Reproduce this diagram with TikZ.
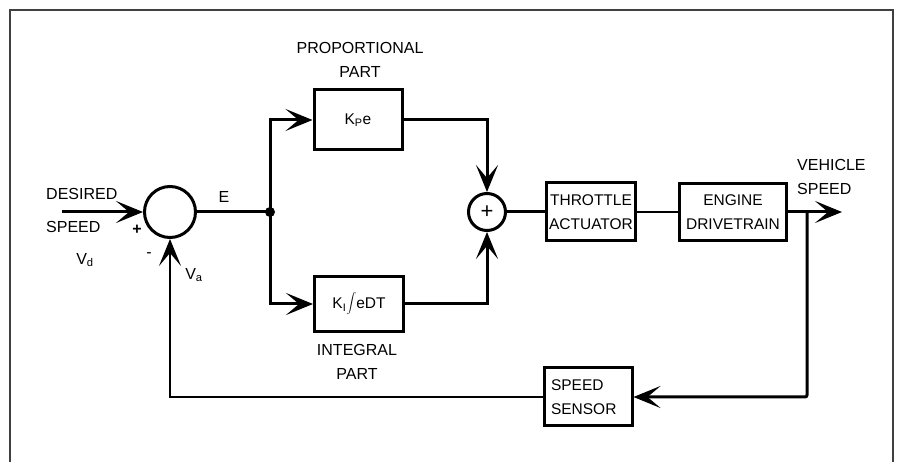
\documentclass[tikz,border=0pt]{standalone}
\usepackage{fontspec}
\setmainfont{Liberation Sans}
\usetikzlibrary{arrows.meta}
\newcommand\lblfont{\fontsize{16}{24}\selectfont}
\newcommand\boxfont{\fontsize{15.5}{24}\selectfont}
\newcommand\plusfont{\fontsize{22}{22}\selectfont}

\begin{document}
\begin{tikzpicture}[
  x=1pt,y=-1pt,
  wire/.style={line width=3pt},
  thinwire/.style={line width=2.3pt},
  flow/.style={line width=3pt,-{Stealth[length=27pt,width=22pt,inset=13pt]}},
  block/.style={draw,line width=3pt,inner sep=0pt,align=center,font=\boxfont},
  junction/.style={draw,circle,line width=3pt,inner sep=0pt},
  label/.style={font=\lblfont,inner sep=0pt}
]
  \useasboundingbox (0,0) rectangle (903,462);
  \draw[black!75,line width=1.5pt] (10,462) -- (10,10) -- (893,10) -- (893,462);

  % summing points
  \node[junction,minimum size=51pt] (errsum) at (170,212) {};
  \node[junction,minimum size=37pt,font=\plusfont] (addsum) at (487,212) {+};

  % blocks
  \node[block,minimum width=88pt,minimum height=60pt] (prop) at (358,120) {K\textsubscript{P}e};
  \node[block,minimum width=89pt,minimum height=55pt] (integ) at (359,304) {K\textsubscript{I}\raisebox{1pt}{$\displaystyle\int$}eDT};
  \node[block,minimum width=89pt,minimum height=58pt] (throttle) at (591,212) {THROTTLE\\ACTUATOR};
  \node[block,minimum width=107pt,minimum height=57pt] (engine) at (733,212) {ENGINE\\DRIVETRAIN};
  \node[block,minimum width=88pt,minimum height=58pt,align=left,text width=74pt] (sensor) at (588,397) {SPEED\\SENSOR};

  \coordinate (vd) at (62,212);
  \coordinate (branch) at (270,212);
  \coordinate (vout) at (842,212);
  \coordinate (tap) at (807,212);

  % forward path
  \draw[flow] (vd) -- (errsum);
  \draw[wire] (errsum) -- (branch);
  \fill (branch) circle (5pt);
  \draw[flow] (branch) |- (prop);
  \draw[flow] (branch) |- (integ);
  \draw[flow] (prop) -| (addsum);
  \draw[flow] (integ) -| (addsum);
  \draw[wire] (addsum) -- (throttle);
  \draw[thinwire] (throttle) -- (engine);
  \draw[flow] (engine) -- (vout);

  % feedback path
  \draw[flow,rounded corners=2pt] (tap) |- (sensor);
  \draw[flow,line width=2.5pt] (sensor) -| (errsum);

  % labels
  \node[label,anchor=west] (desired) at (46,194) {DESIRED};
  \node[label,anchor=west] (speedin) at (46,227) {SPEED};
  \node[label] (vdlbl) at (85,260) {V\textsubscript{d}};
  \node[label,font=\bfseries\lblfont] (plus) at (137,230) {+};
  \node[label] (minus) at (149,255) {-};
  \node[label] (valbl) at (194,275) {V\textsubscript{a}};
  \node[label] (elbl) at (224,197) {E};
  \node[label,align=center] (proplbl) at (360,60) {PROPORTIONAL\\PART};
  \node[label,align=center] (intlbl) at (357,362) {INTEGRAL\\PART};
  \node[label,align=left,anchor=west] (speedout) at (797,177) {VEHICLE\\SPEED};
\end{tikzpicture}
\end{document}
